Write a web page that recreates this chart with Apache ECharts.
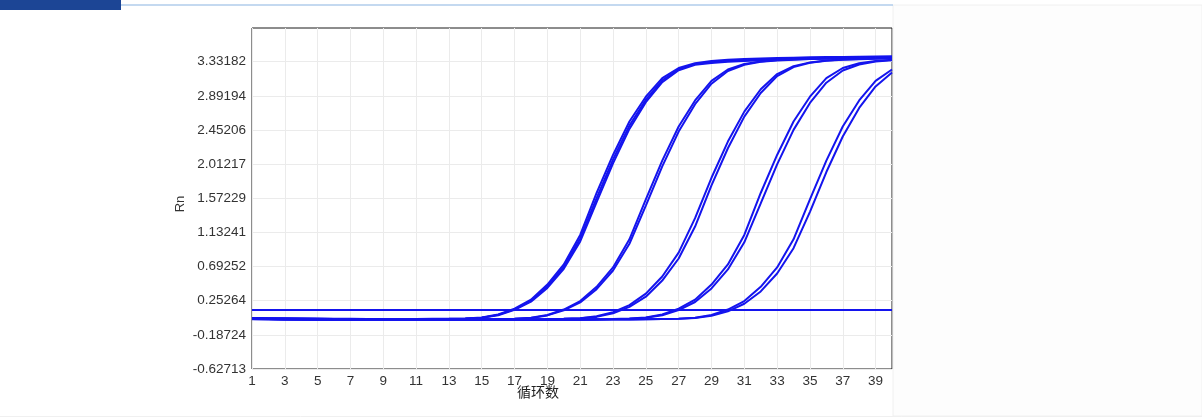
<!DOCTYPE html>
<html><head><meta charset="utf-8">
<script src="https://cdn.jsdelivr.net/npm/echarts@6/dist/echarts.min.js"></script>
<style>html,body{margin:0;padding:0;background:#fff;}#c{width:1202px;height:419px;}</style>
</head><body><div id="c"></div>
<script>
const cycles = [1,2,3,4,5,6,7,8,9,10,11,12,13,14,15,16,17,18,19,20,21,22,23,24,25,26,27,28,29,30,31,32,33,34,35,36,37,38,39,40];
const xTicks = [1,3,5,7,9,11,13,15,17,19,21,23,25,27,29,31,33,35,37,39];
const yTicks = [-0.62713,-0.18724,0.25264,0.69252,1.13241,1.57229,2.01217,2.45206,2.89194,3.33182];
const threshold = 0.13;

const g1a = [0.030,0.028,0.026,0.024,0.022,0.020,0.019,0.018,0.018,0.018,0.018,0.019,0.020,0.024,0.036,0.075,0.150,0.265,0.460,0.720,1.100,1.640,2.130,2.560,2.880,3.120,3.250,3.310,3.340,3.355,3.365,3.372,3.378,3.383,3.387,3.390,3.393,3.396,3.398,3.400];
const g1b = [0.028,0.026,0.024,0.022,0.020,0.018,0.017,0.016,0.016,0.016,0.016,0.017,0.019,0.022,0.034,0.070,0.141,0.251,0.437,0.689,1.054,1.575,2.071,2.508,2.842,3.091,3.234,3.300,3.325,3.340,3.350,3.357,3.363,3.368,3.372,3.376,3.379,3.382,3.384,3.386];
const g1c = [0.026,0.024,0.022,0.020,0.018,0.016,0.015,0.014,0.014,0.014,0.014,0.015,0.017,0.020,0.033,0.066,0.134,0.240,0.417,0.663,1.016,1.521,2.022,2.465,2.810,3.067,3.221,3.290,3.315,3.330,3.340,3.350,3.356,3.362,3.367,3.372,3.376,3.380,3.383,3.386];
const g2a = [0.022,0.020,0.018,0.016,0.014,0.012,0.010,0.009,0.008,0.008,0.008,0.009,0.010,0.011,0.013,0.016,0.021,0.034,0.069,0.139,0.248,0.431,0.681,1.043,1.559,2.057,2.496,2.832,3.084,3.230,3.301,3.335,3.353,3.363,3.370,3.376,3.381,3.385,3.388,3.391];
const g2b = [0.020,0.018,0.016,0.014,0.012,0.010,0.009,0.008,0.007,0.007,0.007,0.008,0.009,0.010,0.012,0.015,0.020,0.031,0.063,0.128,0.231,0.402,0.642,0.986,1.478,1.983,2.431,2.784,3.048,3.211,3.292,3.331,3.345,3.357,3.365,3.371,3.376,3.380,3.384,3.387];
const g3a = [0.020,0.018,0.016,0.014,0.012,0.010,0.009,0.008,0.007,0.007,0.007,0.007,0.008,0.008,0.009,0.010,0.011,0.013,0.016,0.020,0.028,0.052,0.105,0.196,0.343,0.564,0.872,1.316,1.836,2.302,2.688,2.976,3.172,3.274,3.322,3.346,3.358,3.366,3.372,3.378];
const g3b = [0.018,0.016,0.014,0.012,0.010,0.009,0.008,0.007,0.006,0.006,0.006,0.006,0.007,0.007,0.008,0.009,0.010,0.012,0.015,0.019,0.025,0.044,0.090,0.173,0.304,0.512,0.796,1.208,1.738,2.216,2.624,2.928,3.146,3.262,3.316,3.343,3.355,3.363,3.370,3.376];
const g4a = [0.018,0.016,0.014,0.012,0.010,0.009,0.008,0.007,0.006,0.006,0.006,0.006,0.006,0.006,0.007,0.007,0.008,0.008,0.009,0.010,0.012,0.015,0.018,0.022,0.036,0.075,0.150,0.265,0.460,0.720,1.100,1.640,2.130,2.560,2.880,3.120,3.250,3.310,3.340,3.355];
const g4b = [0.016,0.014,0.012,0.010,0.009,0.008,0.007,0.006,0.005,0.005,0.005,0.005,0.005,0.005,0.006,0.006,0.007,0.007,0.008,0.009,0.011,0.014,0.017,0.021,0.033,0.065,0.131,0.236,0.411,0.655,1.005,1.505,2.008,2.453,2.800,3.060,3.218,3.295,3.333,3.351];
const g5a = [0.016,0.014,0.012,0.010,0.009,0.008,0.007,0.006,0.005,0.005,0.005,0.005,0.005,0.005,0.005,0.005,0.006,0.006,0.007,0.007,0.008,0.009,0.010,0.012,0.014,0.018,0.021,0.034,0.069,0.139,0.248,0.431,0.681,1.043,1.559,2.057,2.496,2.832,3.084,3.230];
const g5b = [0.015,0.013,0.011,0.009,0.008,0.007,0.006,0.005,0.004,0.004,0.004,0.004,0.004,0.004,0.004,0.004,0.005,0.005,0.006,0.006,0.007,0.008,0.009,0.011,0.013,0.017,0.020,0.030,0.058,0.116,0.213,0.372,0.603,0.929,1.397,1.910,2.367,2.736,3.012,3.192];

const curves = [g1a,g1b,g1c,g2a,g2b,g3a,g3b,g4a,g4b,g5a,g5b];
const BLUE = '#1414ee';
const FONT = 'Liberation Sans';

const series = curves.map(function(vals, i){
  const s = {
    type:'line', data: cycles.map(function(c,j){return [c, vals[j]];}),
    symbol:'none', showSymbol:false, silent:true, animation:false,
    lineStyle:{width:2, color:BLUE}, itemStyle:{color:BLUE}
  };
  if (i === 0) {
    s.markLine = {symbol:'none', silent:true, animation:false, label:{show:false},
      lineStyle:{type:'solid', width:2, color:BLUE}, data:[{yAxis: threshold}]};
  }
  return s;
});

const chart = echarts.init(document.getElementById('c'), null, {renderer:'canvas'});
chart.setOption({
  animation:false,
  backgroundColor:'#ffffff',
  grid:{left:252, right:310, top:28, bottom:50, show:true, borderColor:'#1a1a1a', borderWidth:1, backgroundColor:'#ffffff'},
  xAxis:{type:'value', min:1, max:40,
    axisLine:{show:false}, axisTick:{show:false, customValues:xTicks},
    axisLabel:{customValues:xTicks, color:'#333', fontFamily:FONT, fontSize:13.5, margin:5},
    splitLine:{show:true, lineStyle:{color:'#ebebeb', width:1}}},
  yAxis:{type:'value', min:-0.62713, max:3.765,
    axisLine:{show:false}, axisTick:{show:false, customValues:yTicks},
    axisLabel:{customValues:yTicks, color:'#333', fontFamily:FONT, fontSize:13.5, margin:6,
      formatter:function(v){return v.toFixed(5);}},
    splitLine:{show:true, lineStyle:{color:'#ebebeb', width:1}}},
  graphic:[
    {type:'rect', shape:{x:893, y:5, width:309, height:411}, style:{fill:'#fdfdfd', stroke:'#f0f0f0', lineWidth:1}, silent:true},
    {type:'rect', shape:{x:0, y:0, width:121, height:10}, style:{fill:'#1c4595'}, silent:true},
    {type:'line', shape:{x1:121, y1:5, x2:893, y2:5}, style:{stroke:'#8ab4e2', lineWidth:1.2}, silent:true},
    {type:'line', shape:{x1:0, y1:416.5, x2:1202, y2:416.5}, style:{stroke:'#f0f0f0', lineWidth:1}, silent:true},
    {type:'text', x:180, y:204, rotation:Math.PI/2, style:{text:'Rn', fill:'#333', font:'13px "Liberation Sans"', align:'center', verticalAlign:'middle'}, silent:true},
    {type:'text', x:538, y:392, style:{text:'循环数', fill:'#222', font:'14px "Noto Sans CJK SC"', align:'center', verticalAlign:'middle'}, silent:true}
  ],
  series: series
});
</script></body></html>
